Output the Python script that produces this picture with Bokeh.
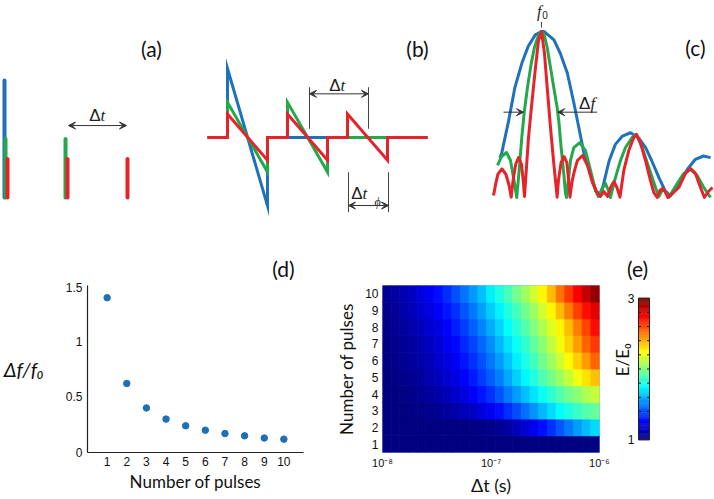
import numpy as np
from bokeh.plotting import figure
from bokeh.layouts import row, column
from bokeh.models import Range1d, Arrow, VeeHead, FixedTicker, ColumnDataSource
from bokeh.transform import linear_cmap
from bokeh.embed import file_html
from bokeh.resources import INLINE
from bokeh.core.properties import value

# ---------------- data ----------------
# (a) pulse trains (pulse position in units of Δt, pulse amplitude)
a_pulses_n1 = [0]
a_pulses_n2 = [0, 1]
a_pulses_n3 = [0, 1, 2]
a_amp_n1 = [1.0]
a_amp_n2 = [0.5, 0.5]
a_amp_n3 = [0.33, 0.33, 0.33]

# (b) bipolar waveforms (time, field)
b_t_n1 = [-1, 0, 0, 2, 2, 10]
b_v_n1 = [0, 0, 1.0, -0.99, 0, 0]
b_t_n2 = [-1, 0, 0, 2, 2, 3, 3, 5, 5, 10]
b_v_n2 = [0, 0, 0.51, -0.5, 0, 0, 0.51, -0.5, 0, 0]
b_t_n3 = [-1, 0, 0, 2, 2, 3, 3, 5, 5, 6, 6, 8, 8, 10]
b_v_n3 = [0, 0, 0.34, -0.33, 0, 0, 0.34, -0.33, 0, 0, 0.34, -0.33, 0, 0]

# (c) spectra (f/f0, normalised amplitude)
c_f_n1 = [0.53, 0.55, 0.63, 0.70, 0.78, 0.85, 0.93, 1.00, 1.03, 1.14, 1.21, 1.29, 1.36, 1.42, 1.48, 1.55, 1.61,
          1.65, 1.67, 1.76, 1.83, 1.91, 2.00, 2.09, 2.17, 2.24, 2.32, 2.39, 2.45, 2.54, 2.64, 2.73, 2.82, 2.90]
c_a_n1 = [0.24, 0.26, 0.46, 0.66, 0.81, 0.91, 0.98, 1.00, 1.00, 0.95, 0.87, 0.75, 0.58, 0.42, 0.26, 0.14, 0.04,
          0.02, 0.02, 0.22, 0.32, 0.37, 0.39, 0.36, 0.30, 0.22, 0.12, 0.04, 0.01, 0.08, 0.17, 0.23, 0.25, 0.24]
c_f_n2 = [0.506, 0.551, 0.607, 0.652, 0.691, 0.722, 0.749, 0.779, 0.806, 0.843, 0.884, 0.921, 0.966, 1.0, 1.026,
          1.064, 1.101, 1.138, 1.176, 1.194, 1.221, 1.250, 1.270, 1.281, 1.326, 1.363, 1.430, 1.494, 1.551, 1.607,
          1.640, 1.680, 1.719, 1.753, 1.775, 1.831, 1.888, 1.944, 2.019, 2.067, 2.131, 2.206, 2.281, 2.318, 2.348,
          2.374, 2.404, 2.430, 2.525, 2.599, 2.674, 2.749, 2.824, 2.899]
c_a_n2 = [0.193, 0.247, 0.271, 0.223, 0.102, 0.0, 0.163, 0.363, 0.514, 0.665, 0.805, 0.905, 0.976, 1.0, 0.988,
          0.904, 0.783, 0.663, 0.542, 0.464, 0.301, 0.145, 0.024, 0.0, 0.223, 0.301, 0.331, 0.283, 0.163, 0.042,
          0.006, 0.054, 0.084, 0.042, 0.0, 0.120, 0.223, 0.301, 0.361, 0.380, 0.301, 0.181, 0.060, 0.006, 0.036,
          0.048, 0.030, 0.0, 0.084, 0.145, 0.169, 0.133, 0.060, 0.0]
c_f_n3 = [0.461, 0.485, 0.510, 0.556, 0.600, 0.635, 0.660, 0.680, 0.710, 0.742, 0.775, 0.795, 0.809,
          0.854, 0.891, 0.929, 0.966, 1.0, 1.034, 1.064, 1.101, 1.138, 1.176, 1.190, 1.220, 1.253, 1.285, 1.305,
          1.320, 1.345, 1.370, 1.404, 1.461, 1.517, 1.573, 1.629, 1.663, 1.702, 1.742, 1.781, 1.815, 1.848, 1.882,
          1.925, 1.981, 2.037, 2.067, 2.112, 2.169, 2.225, 2.262, 2.300, 2.331, 2.360, 2.388, 2.421,
          2.472, 2.543, 2.618, 2.674, 2.730, 2.787, 2.831, 2.876, 2.921]
c_a_n3 = [0.012, 0.080, 0.140, 0.172, 0.140, 0.075, 0.002, 0.100, 0.200, 0.241, 0.200, 0.100, 0.006,
          0.361, 0.566, 0.765, 0.946, 1.0, 0.867, 0.663, 0.422, 0.205, 0.002, 0.100, 0.210, 0.247, 0.210, 0.100,
          0.002, 0.100, 0.160, 0.223, 0.253, 0.193, 0.090, 0.024, 0.006, 0.036, 0.006, 0.066, 0.096, 0.060, 0.002,
          0.163, 0.283, 0.361, 0.380, 0.331, 0.223, 0.102, 0.030, 0.0, 0.042, 0.054, 0.036, 0.0,
          0.024, 0.060, 0.145, 0.175, 0.145, 0.060, 0.0, 0.036, 0.060]

# (d) relative bandwidth vs number of pulses
d_pulses = [1, 2, 3, 4, 5, 6, 7, 8, 9, 10]
d_df_f0 = [1.39, 0.62, 0.40, 0.30, 0.24, 0.20, 0.17, 0.15, 0.13, 0.12]
d_yticks = [0, 0.5, 1, 1.5]
d_ylabels = ["0", "0.5", "1", "1.5"]

# (e) E/E0 vs Δt (log-spaced columns from 1e-8 to 1e-6 s), one row per number of pulses
e_n1 = [1.00] * 25
e_n2 = [1.00, 1.00, 1.00, 1.00, 1.00, 1.00, 1.00, 1.00, 1.00, 1.00, 1.00, 1.01, 1.02, 1.04, 1.07, 1.11, 1.16,
        1.22, 1.28, 1.35, 1.42, 1.49, 1.56, 1.62, 1.68]
e_n3 = [1.00, 1.00, 1.00, 1.01, 1.02, 1.03, 1.04, 1.06, 1.08, 1.11, 1.14, 1.18, 1.23, 1.28, 1.34, 1.40, 1.47,
        1.54, 1.61, 1.68, 1.75, 1.81, 1.86, 1.91, 1.95]
e_n4 = [1.00, 1.00, 1.01, 1.02, 1.04, 1.06, 1.08, 1.11, 1.15, 1.19, 1.24, 1.29, 1.35, 1.42, 1.49, 1.56, 1.63,
        1.70, 1.77, 1.84, 1.91, 1.97, 2.03, 2.09, 2.14]
e_n5 = [1.00, 1.01, 1.03, 1.04, 1.06, 1.09, 1.12, 1.16, 1.20, 1.25, 1.30, 1.36, 1.43, 1.50, 1.58, 1.66, 1.74,
        1.82, 1.90, 1.98, 2.06, 2.14, 2.22, 2.30, 2.37]
e_n6 = [1.01, 1.02, 1.04, 1.06, 1.08, 1.11, 1.15, 1.19, 1.24, 1.29, 1.35, 1.41, 1.48, 1.56, 1.64, 1.72, 1.80,
        1.88, 1.97, 2.06, 2.15, 2.25, 2.35, 2.45, 2.55]
e_n7 = [1.01, 1.03, 1.05, 1.07, 1.10, 1.13, 1.17, 1.22, 1.27, 1.33, 1.39, 1.46, 1.53, 1.61, 1.69, 1.77, 1.85,
        1.94, 2.03, 2.12, 2.22, 2.33, 2.44, 2.55, 2.64]
e_n8 = [1.02, 1.04, 1.06, 1.09, 1.12, 1.16, 1.20, 1.25, 1.31, 1.37, 1.44, 1.51, 1.59, 1.67, 1.75, 1.83, 1.91,
        2.00, 2.09, 2.18, 2.27, 2.38, 2.50, 2.61, 2.72]
e_n9 = [1.03, 1.05, 1.08, 1.11, 1.15, 1.19, 1.24, 1.29, 1.35, 1.42, 1.49, 1.57, 1.65, 1.73, 1.81, 1.89, 1.97,
        2.06, 2.16, 2.26, 2.38, 2.50, 2.62, 2.72, 2.80]
e_n10 = [1.04, 1.07, 1.10, 1.14, 1.18, 1.23, 1.28, 1.34, 1.41, 1.48, 1.55, 1.63, 1.72, 1.81, 1.89, 1.97, 2.06,
         2.16, 2.26, 2.38, 2.52, 2.64, 2.75, 2.86, 2.96]
e_xticks = [1e-8, 1e-7, 1e-6]
e_xlabels = ["10⁻⁸", "10⁻⁷", "10⁻⁶"]
e_yticks = [1, 2, 3, 4, 5, 6, 7, 8, 9, 10]
e_low, e_high = 1, 3

# ---------------- style ----------------
BLUE = "#1f71bd"
GREEN = "#23a84b"
RED = "#e6222b"
DOT = "#1f6fb8"
ANN = "#333333"
LAB = "Lato"
TICK = "Liberation Sans"
SERIF = "Liberation Serif"


def jet(n):
    cols = []
    for i in range(n):
        t = i / (n - 1)
        r = min(max(1.5 - abs(4 * t - 3), 0), 1)
        g = min(max(1.5 - abs(4 * t - 2), 0), 1)
        b = min(max(1.5 - abs(4 * t - 1), 0), 1)
        cols.append("#%02x%02x%02x" % (round(r * 255), round(g * 255), round(b * 255)))
    return cols


JET = jet(256)


def blank(w, h, xr, yr, **kw):
    opts = dict(min_border=0)
    opts.update(kw)
    p = figure(width=w, height=h, x_range=Range1d(*xr), y_range=Range1d(*yr),
               output_backend="svg", toolbar_location=None,
               x_axis_location=None, y_axis_location=None, **opts)
    p.xgrid.visible = False
    p.ygrid.visible = False
    p.outline_line_color = None
    return p


def txt(p, x, y, s, size, italic=False, align="center", baseline="middle", font=LAB, angle=0.0, color="#111111"):
    p.text(x=[x], y=[y], text=[s], text_font=value(font), text_font_size="%dpx" % size,
           text_font_style="italic" if italic else "normal", text_align=align,
           text_baseline=baseline, angle=angle, text_color=color)


def delta(p, x, y, s, size):
    txt(p, x, y, "Δ", size, align="right", font=TICK, color="#222222")
    txt(p, x, y, s, size, italic=True, align="left", font=SERIF, color="#222222")


def harrow(p, x0, x1, y, start=True, end=True):
    head = lambda: VeeHead(size=7, line_color=ANN, fill_color=ANN, line_width=1)
    p.add_layout(Arrow(x_start=x0, y_start=y, x_end=x1, y_end=y, line_color=ANN, line_width=1,
                       start=head() if start else None, end=head() if end else None))


# ---------------- (a) ----------------
fa = blank(200, 230, (-0.1167, 3.2167), (-0.282, 1.684))
for pulses, amps, col, off in [(a_pulses_n1, a_amp_n1, BLUE, -0.05),
                               (a_pulses_n2, a_amp_n2, GREEN, -0.033),
                               (a_pulses_n3, a_amp_n3, RED, 0.0)]:
    xs = [t + off for t in pulses]
    fa.segment(x0=xs, y0=[0] * len(xs), x1=xs, y1=amps, line_color=col, line_width=4, line_cap="round")
harrow(fa, 1.017, 1.983, 0.615)
delta(fa, 1.55, 0.70, "t", 17)
txt(fa, 2.4, 1.274, "(a)", 21)

# ---------------- (b) ----------------
fb = blank(245, 230, (-1.35, 10.9), (-1.348, 1.986))
for t, v, col in [(b_t_n1, b_v_n1, BLUE), (b_t_n2, b_v_n2, GREEN), (b_t_n3, b_v_n3, RED)]:
    fb.line(t, v, line_color=col, line_width=3, line_join="miter")
fb.segment(x0=[4.1, 7.05], y0=[0.126, 0.126], x1=[4.1, 7.05], y1=[0.729, 0.729], line_color="#444444", line_width=1)
harrow(fb, 4.1, 7.05, 0.633)
delta(fb, 5.65, 0.754, "t", 17)
fb.segment(x0=[6.05, 8.05], y0=[-0.503, -0.503], x1=[6.05, 8.05], y1=[-1.083, -1.083], line_color="#444444", line_width=1)
harrow(fb, 6.05, 8.05, -0.986)
delta(fb, 6.75, -0.81, "t", 17)
txt(fb, 7.35, -0.93, "ϕ", 12, italic=True, align="left", font=SERIF, color="#222222")
txt(fb, 9.5, 1.29, "(b)", 21)

# ---------------- (c) ----------------
fc = blank(268, 230, (-0.0787, 2.933), (-0.199, 1.187))
for f, a, col in [(c_f_n1, c_a_n1, BLUE), (c_f_n2, c_a_n2, GREEN), (c_f_n3, c_a_n3, RED)]:
    fc.line(f, a, line_color=col, line_width=3, line_join="round")
harrow(fc, 0.573, 0.798, 0.514, start=False, end=True)
harrow(fc, 1.626, 1.183, 0.514, start=False, end=True)
delta(fc, 1.55, 0.566, "f", 17)
fc.segment(x0=[1.0], y0=[1.024], x1=[1.0], y1=[1.058], line_color="#444444", line_width=1)
txt(fc, 1.0, 1.122, "f", 16, italic=True, font=SERIF, color="#222222", align="right")
txt(fc, 1.008, 1.098, "0", 10, font=TICK, color="#222222", align="left")
txt(fc, 2.73, 0.904, "(c)", 21)

# ---------------- strip with panel letters (d), (e) ----------------
strip = blank(713, 52, (0, 713), (0, 52))
txt(strip, 283, 14, "(d)", 21)
txt(strip, 637, 14, "(e)", 21)

# ---------------- (d) ----------------
BOT_H = 216
BT, BB = 3, 42
fd = figure(width=330, height=BOT_H, x_range=Range1d(0, 11), y_range=Range1d(0, 1.5),
            output_backend="svg", toolbar_location=None,
            min_border_left=86, min_border_right=27, min_border_top=BT, min_border_bottom=BB)
fd.xgrid.visible = False
fd.ygrid.visible = False
fd.outline_line_color = None
fd.xaxis.ticker = FixedTicker(ticks=d_pulses)
fd.yaxis.ticker = FixedTicker(ticks=d_yticks)
fd.yaxis.major_label_overrides = {float(k): s for k, s in zip(d_yticks, d_ylabels)}
for ax in fd.axis:
    ax.major_tick_in = 0
    ax.major_tick_out = 0
    ax.minor_tick_in = 0
    ax.minor_tick_out = 0
    ax.axis_line_color = "#222222"
    ax.axis_line_width = 1.2
    ax.major_label_text_font = TICK
    ax.major_label_text_font_size = "12px"
    ax.major_label_text_color = "#111111"
    ax.axis_label_text_font = LAB
    ax.axis_label_text_color = "#111111"
fd.xaxis.major_label_standoff = 4
fd.yaxis.major_label_standoff = 5
fd.xaxis.axis_label = "Number of pulses"
fd.xaxis.axis_label_text_font_style = "normal"
fd.xaxis.axis_label_text_font_size = "17px"
fd.xaxis.axis_label_standoff = 2
fd.yaxis.axis_label = "Δf/f₀"
fd.yaxis.axis_label_orientation = "horizontal"
fd.yaxis.axis_label_text_font_style = "italic"
fd.yaxis.axis_label_text_font_size = "20px"
fd.yaxis.axis_label_standoff = 19
fd.scatter(d_pulses, d_df_f0, size=6.5, color=DOT)

# ---------------- (e) heatmap ----------------
e_rows = [e_n1, e_n2, e_n3, e_n4, e_n5, e_n6, e_n7, e_n8, e_n9, e_n10]
ncol = len(e_n1)
edges = 10 ** np.linspace(-8, -6, ncol + 1)
L, R, B, T, V = [], [], [], [], []
for i, vals in enumerate(e_rows):
    n = e_yticks[i]
    for j, v in enumerate(vals):
        L.append(edges[j]); R.append(edges[j + 1]); B.append(n - 0.5); T.append(n + 0.5); V.append(v)
src = ColumnDataSource(dict(left=L, right=R, bottom=B, top=T, v=V))

fe = figure(width=282, height=BOT_H, x_axis_type="log", x_range=Range1d(1e-8, 1e-6), y_range=Range1d(0.5, 10.5),
            output_backend="svg", toolbar_location=None,
            min_border_left=52, min_border_right=13, min_border_top=BT, min_border_bottom=BB)
fe.xgrid.visible = False
fe.ygrid.visible = False
fe.quad(left="left", right="right", bottom="bottom", top="top", source=src,
        fill_color=linear_cmap("v", JET, e_low, e_high), line_color=linear_cmap("v", JET, e_low, e_high),
        line_width=0.8)
fe.outline_line_color = "#a9b9d3"
fe.outline_line_width = 1
fe.xaxis.ticker = FixedTicker(ticks=e_xticks, minor_ticks=[])
fe.xaxis.major_label_overrides = {k: s for k, s in zip(e_xticks, e_xlabels)}
fe.yaxis.ticker = FixedTicker(ticks=e_yticks, minor_ticks=[])
for ax in fe.axis:
    ax.major_tick_in = 0
    ax.major_tick_out = 0
    ax.minor_tick_in = 0
    ax.minor_tick_out = 0
    ax.axis_line_color = None
    ax.major_label_text_font = TICK
    ax.major_label_text_color = "#111111"
    ax.major_label_standoff = 4
    ax.axis_label_text_font = LAB
    ax.axis_label_text_font_style = "normal"
    ax.axis_label_text_color = "#111111"
fe.yaxis.major_label_text_font_size = "12px"
fe.xaxis.major_label_text_font_size = "11px"
fe.yaxis.axis_label = "Number of pulses"
fe.yaxis.axis_label_text_font_size = "17px"
fe.yaxis.axis_label_standoff = 5
fe.xaxis.axis_label = "Δt (s)"
fe.xaxis.axis_label_text_font_size = "18px"
fe.xaxis.axis_label_standoff = 2

# ---------------- colour bar ----------------
fcb = blank(101, BOT_H, (0, 101), (0.821, 3.179), min_border_top=BT, min_border_bottom=BB,
            min_border_left=0, min_border_right=0)
nlev = 128
cb_bottom = [e_low + (e_high - e_low) * k / nlev for k in range(nlev)]
cb_top = [e_low + (e_high - e_low) * (k + 1) / nlev for k in range(nlev)]
cb_cols = [JET[int(round(k * 255 / (nlev - 1)))] for k in range(nlev)]
fcb.quad(left=26, right=37, bottom=cb_bottom, top=cb_top, fill_color=cb_cols, line_color=cb_cols, line_width=0.5)
fcb.quad(left=[26], right=[37], bottom=[e_low], top=[e_high], fill_color=None, line_color="#222222", line_width=1)
cb_minor = [1.2, 1.4, 1.6, 1.8, 2.0, 2.2, 2.4, 2.6, 2.8]
fcb.segment(x0=[26] * 9, y0=cb_minor, x1=[28.5] * 9, y1=cb_minor, line_color="#222222", line_width=1)
fcb.segment(x0=[34.5] * 9, y0=cb_minor, x1=[37] * 9, y1=cb_minor, line_color="#222222", line_width=1)
txt(fcb, 22, 3.0, "3", 12, align="right", font=TICK)
txt(fcb, 22, 1.0, "1", 12, align="right", font=TICK)
txt(fcb, 10, 2.13, "E/E₀", 17, angle=np.pi / 2)

layout = column(row(fa, fb, fc), strip, row(fd, fe, fcb))
open("out.html", "w").write(file_html(layout, INLINE))
